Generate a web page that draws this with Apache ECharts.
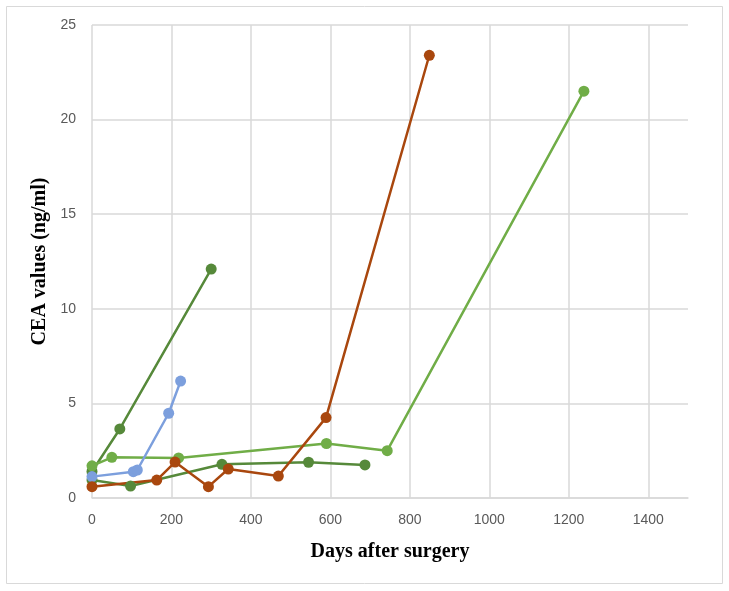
<!DOCTYPE html>
<html>
<head>
    <meta charset="utf-8">
    <title>CEA values</title>
    <script src="https://cdn.jsdelivr.net/npm/echarts@6/dist/echarts.min.js"></script>
    <style>
        html, body { margin: 0; padding: 0; background: #fff; }
    </style>
</head>
<body>
    <div id="main" style="width: 729px;height:591px;"></div>
    <script type="text/javascript">
    // each patient: days after surgery / CEA (ng/ml)
    var darkGreenA_days = [0, 70, 300];
    var darkGreenA_cea = [1.4, 3.65, 12.1];

    var darkGreenB_days = [0, 97, 327, 545, 687];
    var darkGreenB_cea = [0.95, 0.63, 1.78, 1.89, 1.75];

    var lightGreen_days = [0, 50, 218, 590, 743, 1238];
    var lightGreen_cea = [1.7, 2.15, 2.12, 2.88, 2.5, 21.5];

    var blue_days = [0, 104, 114, 193, 223];
    var blue_cea = [1.13, 1.39, 1.48, 4.48, 6.18];

    var brown_days = [0, 163, 209, 293, 343, 469, 589, 849];
    var brown_cea = [0.6, 0.95, 1.9, 0.6, 1.53, 1.16, 4.25, 23.4];

    var xTicks = [0, 200, 400, 600, 800, 1000, 1200, 1400];

    function pairs(xs, ys) {
        return xs.map(function (x, i) { return [x, ys[i]]; });
    }

    function line(name, xs, ys, color) {
        return {
            name: name,
            type: 'line',
            data: pairs(xs, ys),
            symbol: 'circle',
            symbolSize: 11,
            lineStyle: { color: color, width: 2.5 },
            itemStyle: { color: color },
            z: 3
        };
    }

    var myChart = echarts.init(document.getElementById('main'));
    var option = {
        animation: false,
        backgroundColor: '#fff',
        graphic: [{
            type: 'rect',
            shape: { x: 6.5, y: 6.5, width: 716, height: 577 },
            style: { fill: 'none', stroke: '#d9d9d9', lineWidth: 1 },
            silent: true
        }],
        grid: { left: 92, right: 41, top: 25, bottom: 93 },
        xAxis: {
            type: 'value',
            min: 0,
            max: 1500,
            interval: 200,
            name: 'Days after surgery',
            nameLocation: 'middle',
            nameGap: 44,
            nameTextStyle: {
                fontFamily: 'Liberation Serif',
                fontWeight: 'bold',
                fontSize: 20,
                color: '#000'
            },
            axisLine: { show: true, lineStyle: { color: '#d9d9d9', width: 1.5 } },
            axisTick: { show: false },
            axisLabel: {
                color: '#595959',
                fontFamily: 'Liberation Sans',
                fontSize: 14,
                margin: 15,
                showMaxLabel: false,
                formatter: function (v) { return xTicks.indexOf(v) >= 0 ? String(v) : ''; }
            },
            splitLine: { show: true, showMaxLine: false, lineStyle: { color: '#d9d9d9', width: 1.5 } }
        },
        yAxis: {
            type: 'value',
            min: 0,
            max: 25,
            interval: 5,
            name: 'CEA values (ng/ml)',
            nameLocation: 'middle',
            nameGap: 41,
            nameTextStyle: {
                fontFamily: 'Liberation Serif',
                fontWeight: 'bold',
                fontSize: 20,
                color: '#000'
            },
            axisLine: { show: false },
            axisTick: { show: false },
            axisLabel: {
                color: '#595959',
                fontFamily: 'Liberation Sans',
                fontSize: 14,
                margin: 16
            },
            splitLine: { show: true, lineStyle: { color: '#d9d9d9', width: 1.5 } }
        },
        series: [
            line('Patient 1', darkGreenA_days, darkGreenA_cea, '#56893A'),
            line('Patient 2', darkGreenB_days, darkGreenB_cea, '#56893A'),
            line('Patient 3', lightGreen_days, lightGreen_cea, '#70AD47'),
            line('Patient 4', blue_days, blue_cea, '#7C9FDD'),
            line('Patient 5', brown_days, brown_cea, '#A9470E')
        ]
    };
    myChart.setOption(option);
    </script>
</body>
</html>
